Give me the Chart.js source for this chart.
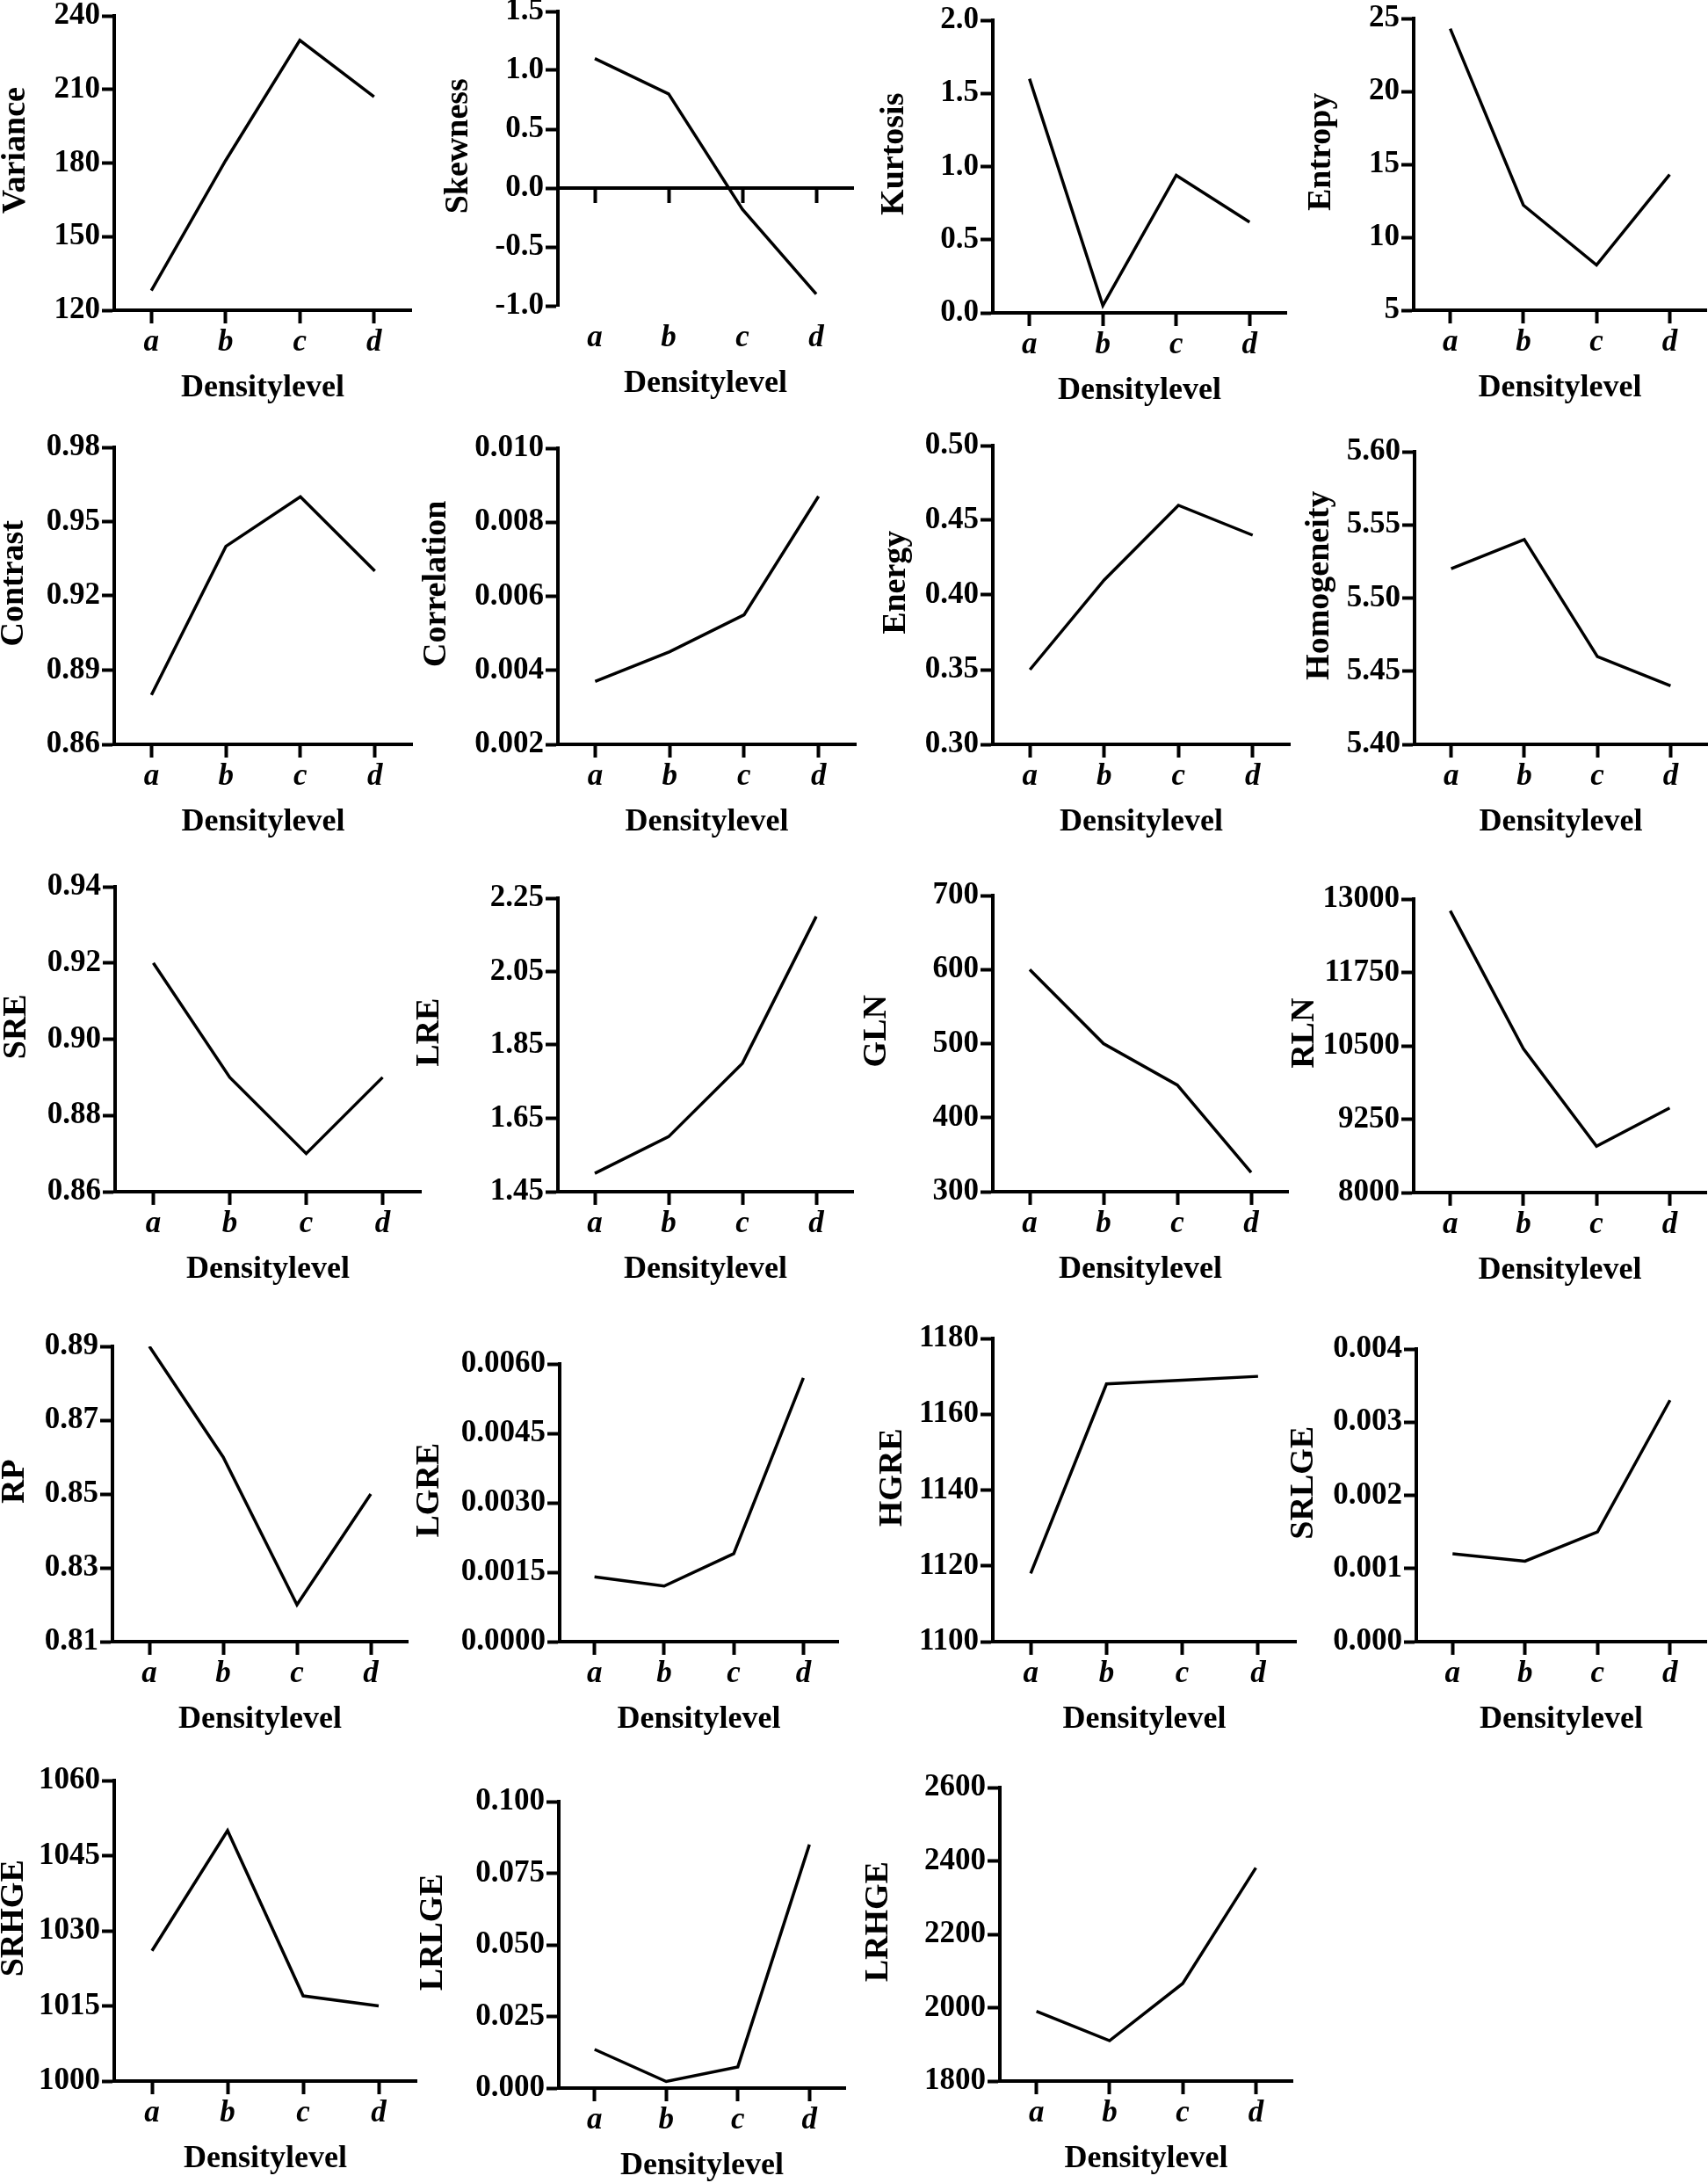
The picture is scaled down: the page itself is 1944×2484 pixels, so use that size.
<!DOCTYPE html>
<html>
<head>
<meta charset="utf-8">
<title>Texture features by density level</title>
<script src="https://cdn.jsdelivr.net/npm/chart.js"></script>
<style>
  html, body { margin: 0; padding: 0; background: #fff; }
  body { width: 1944px; height: 2484px; position: relative; overflow: hidden; }
  canvas { position: absolute; }
</style>
</head>
<body>
<script>
/* values */
const categories = ['a', 'b', 'c', 'd'];

const variance = [128, 181, 230, 207];
const skewness = [1.1, 0.8, -0.18, -0.9];
const kurtosis = [1.6, 0.05, 0.94, 0.62];
const entropy = [24.3, 12.2, 8.1, 14.3];
const contrast = [0.88, 0.94, 0.96, 0.93];
const correlation = [0.0037, 0.0045, 0.0055, 0.0087];
const energy = [0.35, 0.41, 0.46, 0.44];
const homogeneity = [5.52, 5.54, 5.46, 5.44];
const sre = [0.92, 0.89, 0.87, 0.89];
const lre = [1.50, 1.60, 1.80, 2.20];
const gln = [600, 500, 444, 326];
const rln = [12800, 10450, 8790, 9440];
const rp = [0.89, 0.86, 0.82, 0.85];
const lgre = [0.0014, 0.0012, 0.0019, 0.0057];
const hgre = [1118, 1168, 1169, 1170];
const srlge = [0.0012, 0.0011, 0.0015, 0.0033];
const srhge = [1026, 1050, 1017, 1015];
const lrlge = [0.0135, 0.0023, 0.0074, 0.085];
const lrhge = [1990, 1910, 2066, 2381];

/* y tick labels, bottom to top */
const varianceTicks = ['120', '150', '180', '210', '240'];
const skewnessTicks = ['-1.0', '-0.5', '0.0', '0.5', '1.0', '1.5'];
const kurtosisTicks = ['0.0', '0.5', '1.0', '1.5', '2.0'];
const entropyTicks = ['5', '10', '15', '20', '25'];
const contrastTicks = ['0.86', '0.89', '0.92', '0.95', '0.98'];
const correlationTicks = ['0.002', '0.004', '0.006', '0.008', '0.010'];
const energyTicks = ['0.30', '0.35', '0.40', '0.45', '0.50'];
const homogeneityTicks = ['5.40', '5.45', '5.50', '5.55', '5.60'];
const sreTicks = ['0.86', '0.88', '0.90', '0.92', '0.94'];
const lreTicks = ['1.45', '1.65', '1.85', '2.05', '2.25'];
const glnTicks = ['300', '400', '500', '600', '700'];
const rlnTicks = ['8000', '9250', '10500', '11750', '13000'];
const rpTicks = ['0.81', '0.83', '0.85', '0.87', '0.89'];
const lgreTicks = ['0.0000', '0.0015', '0.0030', '0.0045', '0.0060'];
const hgreTicks = ['1100', '1120', '1140', '1160', '1180'];
const srlgeTicks = ['0.000', '0.001', '0.002', '0.003', '0.004'];
const srhgeTicks = ['1000', '1015', '1030', '1045', '1060'];
const lrlgeTicks = ['0.000', '0.025', '0.050', '0.075', '0.100'];
const lrhgeTicks = ['1800', '2000', '2200', '2400', '2600'];

const xTitle = 'Densitylevel';

// where each plot area sits on the page (x0,y0 = top-left, x1,y1 = bottom-right)
// gap = distance from the y axis to the centre of its title
const panels = [
  { title: 'Variance',    data: variance,    ticks: varianceTicks,    x0: 130,  y0: 18,   x1: 468,  y1: 353,  gap: 112 },
  { title: 'Skewness',    data: skewness,    ticks: skewnessTicks,    x0: 635,  y0: 13,   x1: 971,  y1: 348,  gap: 113, zeroAxis: true },
  { title: 'Kurtosis',    data: kurtosis,    ticks: kurtosisTicks,    x0: 1130, y0: 23,   x1: 1464, y1: 356,  gap: 112 },
  { title: 'Entropy',     data: entropy,     ticks: entropyTicks,     x0: 1609, y0: 21,   x1: 1942, y1: 353,  gap: 105 },
  { title: 'Contrast',    data: contrast,    ticks: contrastTicks,    x0: 130,  y0: 509,  x1: 469,  y1: 847,  gap: 114 },
  { title: 'Correlation', data: correlation, ticks: correlationTicks, x0: 635,  y0: 510,  x1: 974,  y1: 847,  gap: 138 },
  { title: 'Energy',      data: energy,      ticks: energyTicks,      x0: 1130, y0: 507,  x1: 1468, y1: 847,  gap: 110 },
  { title: 'Homogeneity', data: homogeneity, ticks: homogeneityTicks, x0: 1610, y0: 514,  x1: 1943, y1: 847,  gap: 108 },
  { title: 'SRE',         data: sre,         ticks: sreTicks,         x0: 131,  y0: 1009, x1: 479,  y1: 1356, gap: 112 },
  { title: 'LRE',         data: lre,         ticks: lreTicks,         x0: 635,  y0: 1022, x1: 971,  y1: 1356, gap: 146 },
  { title: 'GLN',         data: gln,         ticks: glnTicks,         x0: 1130, y0: 1019, x1: 1466, y1: 1356, gap: 132 },
  { title: 'RLN',         data: rln,         ticks: rlnTicks,         x0: 1609, y0: 1023, x1: 1942, y1: 1357, gap: 124 },
  { title: 'RP',          data: rp,          ticks: rpTicks,          x0: 128,  y0: 1532, x1: 464,  y1: 1868, gap: 111 },
  { title: 'LGRE',        data: lgre,        ticks: lgreTicks,        x0: 637,  y0: 1552, x1: 954,  y1: 1868, gap: 148 },
  { title: 'HGRE',        data: hgre,        ticks: hgreTicks,        x0: 1130, y0: 1523, x1: 1475, y1: 1868, gap: 114 },
  { title: 'SRLGE',       data: srlge,       ticks: srlgeTicks,       x0: 1612, y0: 1535, x1: 1942, y1: 1868, gap: 128 },
  { title: 'SRHGE',       data: srhge,       ticks: srhgeTicks,       x0: 130,  y0: 2026, x1: 474,  y1: 2368, gap: 114 },
  { title: 'LRLGE',       data: lrlge,       ticks: lrlgeTicks,       x0: 636,  y0: 2050, x1: 962,  y1: 2376, gap: 143 },
  { title: 'LRHGE',       data: lrhge,       ticks: lrhgeTicks,       x0: 1138, y0: 2034, x1: 1471, y1: 2368, gap: 138 }
];

const FONT = '"Liberation Serif", "Times New Roman", serif';
const Y_TITLE_SIZE = 38;
const X_TITLE_SIZE = 36;
const TITLE_INSET = 30;   // canvas left edge -> y title centre
const TOP_PAD = 30;
const RIGHT_PAD = 25;
const X_AXIS_H = 110;     // room under the plot for ticks, labels and title

function makePanel(p) {
  const lpad = p.gap + TITLE_INSET;
  const w = p.x1 - p.x0 + lpad + RIGHT_PAD;
  const h = p.y1 - p.y0 + TOP_PAD + X_AXIS_H;

  const canvas = document.createElement('canvas');
  canvas.width = w;
  canvas.height = h;
  canvas.style.left = (p.x0 - lpad) + 'px';
  canvas.style.top = (p.y0 - TOP_PAD) + 'px';
  canvas.style.width = w + 'px';
  canvas.style.height = h + 'px';
  document.body.appendChild(canvas);

  const tickValues = p.ticks.map(Number);

  const axisGrid = {
    display: true,
    drawOnChartArea: false,
    drawTicks: true,
    offset: false,
    tickColor: '#000',
    tickWidth: 4
  };
  const axisBorder = { display: true, color: '#000', width: 4 };

  const scales = {
    x: {
      type: 'category',
      offset: true,
      grid: Object.assign({}, axisGrid, { tickLength: 15 }),
      border: axisBorder,
      ticks: {
        color: '#000',
        padding: 1,
        maxRotation: 0,
        font: { family: FONT, size: 35, weight: 'bold', style: 'italic' }
      },
      title: {
        display: true,
        text: xTitle,
        color: '#000',
        padding: { top: 0, bottom: 0 },
        font: { family: FONT, size: X_TITLE_SIZE, weight: 'bold' }
      },
      afterFit: (s) => { s.height = X_AXIS_H; }
    },
    y: {
      type: 'linear',
      min: tickValues[0],
      max: tickValues[tickValues.length - 1],
      grid: Object.assign({}, axisGrid, { tickLength: 14 }),
      border: axisBorder,
      afterBuildTicks: (s) => { s.ticks = tickValues.map(v => ({ value: v })); },
      ticks: {
        color: '#000',
        padding: 2,
        autoSkip: false,
        font: { family: FONT, size: 35, weight: 'bold' },
        callback: (v, i) => p.ticks[i]
      },
      title: {
        display: true,
        // a few leading spaces lift the rotated title a little, as in the figure
        text: '   ' + p.title,
        color: '#000',
        padding: { top: TITLE_INSET - Y_TITLE_SIZE * 0.6, bottom: 0 },
        font: { family: FONT, size: Y_TITLE_SIZE, weight: 'bold' }
      },
      afterFit: (s) => { s.width = lpad; }
    }
  };

  // skewness: axis line crosses at zero, labels stay at the bottom
  if (p.zeroAxis) {
    scales.x.border = { display: false };
    scales.x.grid = Object.assign({}, axisGrid, { tickLength: 15, tickColor: 'rgba(0,0,0,0)' });
    scales.x2 = {
      type: 'category',
      position: { y: 0 },
      offset: true,
      grid: Object.assign({}, axisGrid, { tickLength: 15 }),
      border: axisBorder,
      ticks: { display: false }
    };
  }

  new Chart(canvas, {
    type: 'line',
    data: {
      labels: categories,
      datasets: [{
        data: p.data,
        xAxisID: 'x',
        yAxisID: 'y',
        borderColor: '#000',
        borderWidth: 3.5,
        pointRadius: 0,
        tension: 0,
        fill: false
      }]
    },
    options: {
      responsive: false,
      animation: false,
      devicePixelRatio: 1,
      layout: { padding: { top: TOP_PAD, right: RIGHT_PAD, left: 0, bottom: 0 } },
      plugins: {
        legend: { display: false },
        tooltip: { enabled: false }
      },
      scales: scales
    }
  });
}

panels.forEach(makePanel);
</script>
</body>
</html>
